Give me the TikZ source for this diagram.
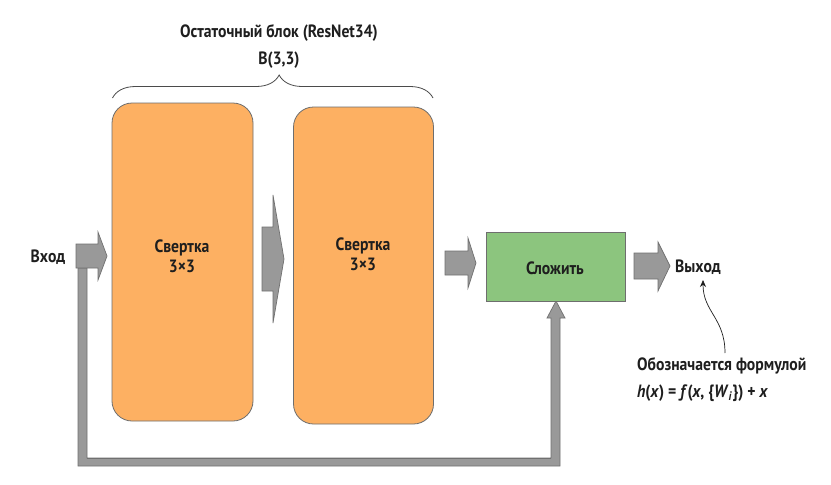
\documentclass[tikz,border=0pt]{standalone}
\usepackage{fontspec}
\setmainfont[FakeStretch=0.88]{PT Sans}
\usetikzlibrary{decorations.pathreplacing,arrows.meta}
\definecolor{convfill}{RGB}{253,176,98}
\definecolor{addfill}{RGB}{140,197,126}
\definecolor{boxline}{RGB}{110,110,110}
\definecolor{arrfill}{RGB}{153,153,153}
\definecolor{arrline}{RGB}{112,112,112}
\definecolor{inkc}{RGB}{30,30,30}
\tikzset{
  txt/.style={font=\fontsize{17.8}{20}\selectfont\bfseries, text=inkc, inner sep=0pt, align=center},
  convbox/.style={draw=boxline, fill=convfill, rounded corners=20pt, line width=0.8pt},
  addbox/.style={draw=boxline, fill=addfill, line width=0.8pt},
  blockarrow/.style={draw=arrline, fill=arrfill, line width=0.7pt, line join=miter},
}
\begin{document}
\begin{tikzpicture}[x=1pt,y=-1pt]
\useasboundingbox (0,0) rectangle (831,485);
\fill[white] (0,0) rectangle (831,485);

% feedback connection
\draw[blockarrow] (78,268) -- (78,466) -- (560,466) -- (560,318) -- (565,318) -- (556,301)
  -- (547,318) -- (551,318) -- (551,458) -- (87,458) -- (87,268) -- cycle;
\draw[arrline, line width=0.7pt] (87,458) -- (551,458);

% boxes
\node[convbox, minimum width=141pt, minimum height=318pt] (conv1) at (182.5,262) {};
\node[convbox, minimum width=140pt, minimum height=317pt] (conv2) at (363.5,265.5) {};
\node[addbox, minimum width=139pt, minimum height=69pt] (add) at (555.5,266.5) {};

\node[txt] (t1) at (182,256) {Свертка\\3×3};
\node[txt] (t2) at (363,254) {Свертка\\3×3};
\node[txt] (t3) at (555,268) {Сложить};

\node[txt] (in) at (48,257) {Вход};
\node[txt] (out) at (698,267) {Выход};

% block arrows
\draw[blockarrow] (76,244) -- (98,244) -- (98,232) -- (107,256) -- (98,280) -- (98,268) -- (76,268) -- cycle;
\draw[blockarrow] (262,227) -- (273,227) -- (273,195) -- (284,259) -- (273,323) -- (273,291) -- (262,291) -- cycle;
\draw[blockarrow] (445,251) -- (468,251) -- (468,238) -- (476,263) -- (468,288) -- (468,275) -- (445,275) -- cycle;
\draw[blockarrow] (634,253) -- (658,253) -- (658,242) -- (670,266) -- (658,291) -- (658,279) -- (634,279) -- cycle;

% brace and titles
\draw[inkc!80, line width=0.8pt, decorate, decoration={brace, amplitude=23pt, aspect=0.52}]
  (112.5,98) -- (433,98);
\node[txt] (title) at (279,33) {Остаточный блок (ResNet34)};
\node[txt] (bname) at (279,60) {B(3,3)};

% annotation
\node[txt, anchor=west] (ann1) at (637,366) {Обозначается формулой};
\node[txt, anchor=west] (ann2) at (637,393) {\textit{h}(\textit{x}) = \textit{f}(\textit{x}, \{\textit{W}\textsubscript{\textit{i}}\}) + \textit{x}};
\coordinate (c1) at (725,353);
\coordinate (c2) at (703,280);
\draw[inkc, line width=0.7pt, -{Stealth[length=7pt,width=6pt]}] (c1) .. controls (725,318) and (703,312) .. (c2);
\end{tikzpicture}
\end{document}
